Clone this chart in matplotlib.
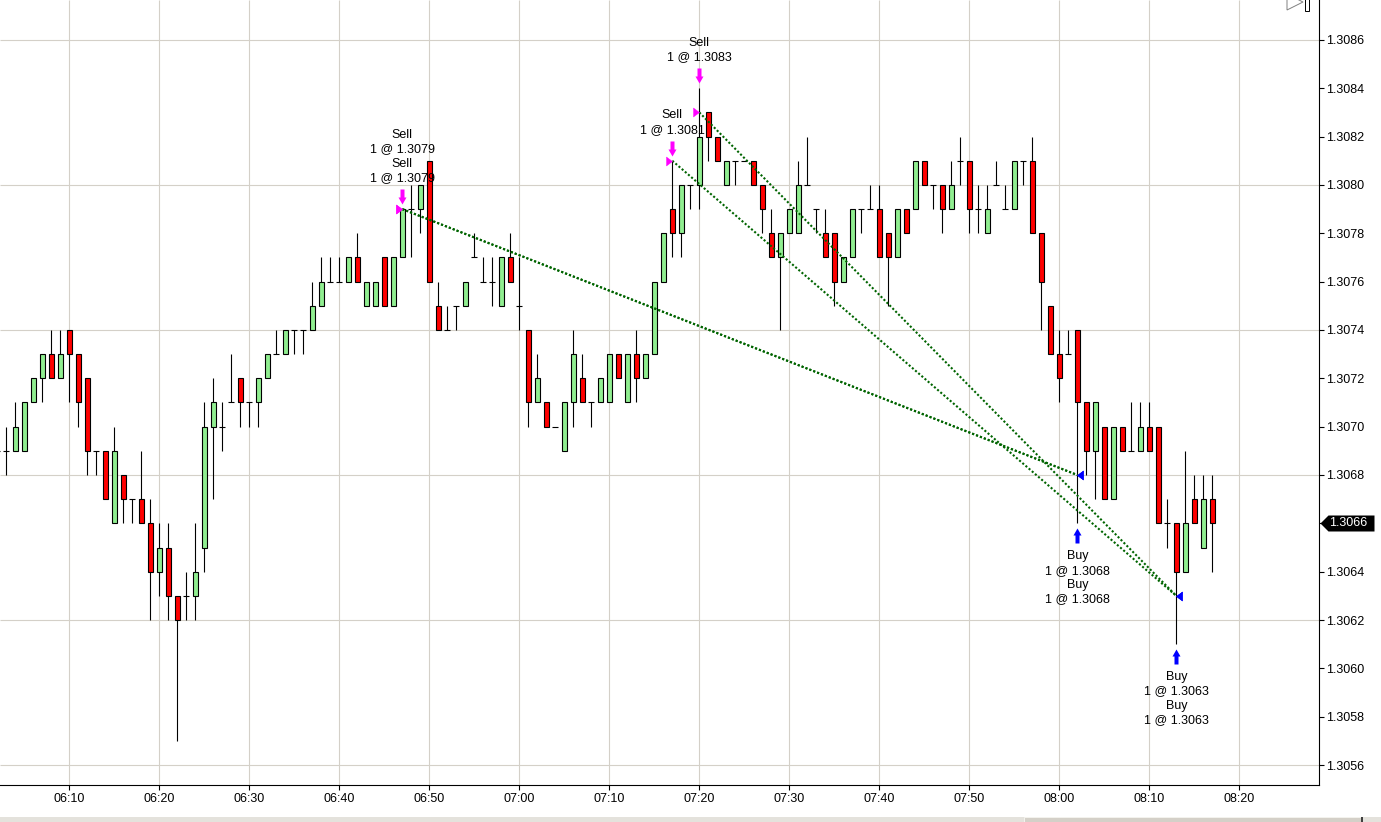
import matplotlib
matplotlib.use('Agg')
import matplotlib.pyplot as plt
from matplotlib.patches import Rectangle, Polygon
from matplotlib.transforms import offset_copy, blended_transform_factory
import numpy as np

plt.rcParams['font.family'] = ['Liberation Sans', 'DejaVu Sans']

# 1分足 (06:00 からの経過分)
minutes = list(range(2, 138))
opens = [1.3069, 1.3069, 1.3069, 1.3069, 1.3071, 1.3072, 1.3073, 1.3072, 1.3074, 1.3073,
         1.3072, 1.3069, 1.3069, 1.3066, 1.3068, 1.3067, 1.3067, 1.3066, 1.3064, 1.3065,
         1.3063, 1.3063, 1.3063, 1.3065, 1.3070, 1.3070, 1.3071, 1.3072, 1.3071, 1.3071,
         1.3072, 1.3073, 1.3073, 1.3074, 1.3074, 1.3074, 1.3075, 1.3076, 1.3076, 1.3076,
         1.3077, 1.3075, 1.3075, 1.3077, 1.3075, 1.3077, 1.3079, 1.3079, 1.3081, 1.3075,
         1.3074, 1.3075, 1.3075, 1.3077, 1.3076, 1.3076, 1.3075, 1.3077, 1.3075, 1.3074,
         1.3071, 1.3071, 1.3070, 1.3069, 1.3071, 1.3072, 1.3071, 1.3071, 1.3071, 1.3073,
         1.3071, 1.3073, 1.3072, 1.3073, 1.3076, 1.3079, 1.3078, 1.3080, 1.3080, 1.3083,
         1.3082, 1.3080, 1.3081, 1.3081, 1.3081, 1.3080, 1.3078, 1.3077, 1.3078, 1.3078,
         1.3080, 1.3079, 1.3078, 1.3078, 1.3076, 1.3077, 1.3079, 1.3079, 1.3079, 1.3078,
         1.3077, 1.3079, 1.3079, 1.3081, 1.3080, 1.3080, 1.3079, 1.3081, 1.3081, 1.3079,
         1.3078, 1.3080, 1.3079, 1.3079, 1.3081, 1.3081, 1.3078, 1.3075, 1.3073, 1.3073,
         1.3074, 1.3071, 1.3069, 1.3070, 1.3067, 1.3070, 1.3069, 1.3069, 1.3070, 1.3070,
         1.3066, 1.3066, 1.3064, 1.3067, 1.3065, 1.3067]
highs = [1.3069, 1.3070, 1.3071, 1.3071, 1.3072, 1.3073, 1.3074, 1.3074, 1.3074, 1.3073,
         1.3072, 1.3069, 1.3069, 1.3070, 1.3068, 1.3067, 1.3069, 1.3067, 1.3066, 1.3066,
         1.3063, 1.3064, 1.3066, 1.3071, 1.3072, 1.3071, 1.3073, 1.3072, 1.3071, 1.3072,
         1.3073, 1.3074, 1.3074, 1.3074, 1.3074, 1.3076, 1.3077, 1.3077, 1.3077, 1.3077,
         1.3078, 1.3076, 1.3076, 1.3077, 1.3077, 1.3079, 1.3080, 1.3080, 1.3081, 1.3076,
         1.3075, 1.3075, 1.3076, 1.3078, 1.3077, 1.3077, 1.3077, 1.3078, 1.3077, 1.3074,
         1.3073, 1.3071, 1.3070, 1.3071, 1.3074, 1.3073, 1.3071, 1.3072, 1.3073, 1.3073,
         1.3073, 1.3074, 1.3073, 1.3076, 1.3078, 1.3081, 1.3080, 1.3080, 1.3084, 1.3083,
         1.3082, 1.3081, 1.3081, 1.3081, 1.3081, 1.3080, 1.3079, 1.3078, 1.3079, 1.3081,
         1.3082, 1.3079, 1.3079, 1.3078, 1.3077, 1.3079, 1.3079, 1.3080, 1.3080, 1.3078,
         1.3079, 1.3079, 1.3081, 1.3081, 1.3080, 1.3080, 1.3081, 1.3082, 1.3081, 1.3080,
         1.3080, 1.3081, 1.3080, 1.3081, 1.3081, 1.3082, 1.3078, 1.3075, 1.3074, 1.3074,
         1.3074, 1.3071, 1.3071, 1.3070, 1.3070, 1.3070, 1.3071, 1.3071, 1.3071, 1.3070,
         1.3067, 1.3066, 1.3069, 1.3068, 1.3068, 1.3068]
lows = [1.3068, 1.3068, 1.3069, 1.3069, 1.3071, 1.3071, 1.3072, 1.3072, 1.3071, 1.3070,
        1.3068, 1.3068, 1.3067, 1.3066, 1.3066, 1.3066, 1.3066, 1.3062, 1.3063, 1.3062,
        1.3057, 1.3062, 1.3062, 1.3064, 1.3067, 1.3069, 1.3071, 1.3070, 1.3070, 1.3070,
        1.3072, 1.3073, 1.3073, 1.3073, 1.3073, 1.3074, 1.3075, 1.3076, 1.3076, 1.3076,
        1.3076, 1.3075, 1.3075, 1.3075, 1.3075, 1.3077, 1.3077, 1.3078, 1.3076, 1.3074,
        1.3074, 1.3074, 1.3075, 1.3077, 1.3076, 1.3075, 1.3075, 1.3076, 1.3074, 1.3070,
        1.3071, 1.3070, 1.3070, 1.3069, 1.3070, 1.3071, 1.3070, 1.3071, 1.3071, 1.3072,
        1.3071, 1.3071, 1.3072, 1.3073, 1.3076, 1.3077, 1.3077, 1.3079, 1.3079, 1.3081,
        1.3081, 1.3080, 1.3080, 1.3081, 1.3080, 1.3078, 1.3077, 1.3074, 1.3078, 1.3078,
        1.3080, 1.3078, 1.3077, 1.3075, 1.3076, 1.3077, 1.3078, 1.3079, 1.3077, 1.3075,
        1.3077, 1.3078, 1.3079, 1.3080, 1.3079, 1.3078, 1.3079, 1.3080, 1.3078, 1.3078,
        1.3078, 1.3080, 1.3079, 1.3079, 1.3080, 1.3078, 1.3074, 1.3073, 1.3071, 1.3073,
        1.3066, 1.3068, 1.3067, 1.3067, 1.3067, 1.3069, 1.3069, 1.3069, 1.3069, 1.3066,
        1.3065, 1.3061, 1.3064, 1.3066, 1.3065, 1.3064]
closes = [1.3069, 1.3069, 1.3070, 1.3071, 1.3072, 1.3073, 1.3072, 1.3073, 1.3073, 1.3071,
          1.3069, 1.3069, 1.3067, 1.3069, 1.3067, 1.3067, 1.3066, 1.3064, 1.3065, 1.3063,
          1.3062, 1.3063, 1.3064, 1.3070, 1.3071, 1.3070, 1.3071, 1.3071, 1.3071, 1.3072,
          1.3073, 1.3073, 1.3074, 1.3074, 1.3074, 1.3075, 1.3076, 1.3076, 1.3076, 1.3077,
          1.3076, 1.3076, 1.3076, 1.3075, 1.3077, 1.3079, 1.3079, 1.3080, 1.3076, 1.3074,
          1.3074, 1.3075, 1.3076, 1.3077, 1.3076, 1.3076, 1.3077, 1.3076, 1.3075, 1.3071,
          1.3072, 1.3070, 1.3070, 1.3071, 1.3073, 1.3071, 1.3071, 1.3072, 1.3073, 1.3072,
          1.3073, 1.3072, 1.3073, 1.3076, 1.3078, 1.3078, 1.3080, 1.3080, 1.3082, 1.3082,
          1.3081, 1.3081, 1.3081, 1.3081, 1.3080, 1.3079, 1.3077, 1.3078, 1.3079, 1.3080,
          1.3080, 1.3079, 1.3077, 1.3076, 1.3077, 1.3079, 1.3079, 1.3079, 1.3077, 1.3077,
          1.3079, 1.3078, 1.3081, 1.3080, 1.3080, 1.3079, 1.3080, 1.3081, 1.3079, 1.3079,
          1.3079, 1.3080, 1.3079, 1.3081, 1.3081, 1.3078, 1.3076, 1.3073, 1.3072, 1.3073,
          1.3071, 1.3069, 1.3071, 1.3067, 1.3070, 1.3069, 1.3069, 1.3070, 1.3069, 1.3066,
          1.3066, 1.3064, 1.3066, 1.3066, 1.3067, 1.3066]

# 約定 (売り → 買い)
sell_bars = [47, 47, 77, 80]
sell_prices = [1.3079, 1.3079, 1.3081, 1.3083]
buy_bars = [122, 122, 133, 133]
buy_prices = [1.3068, 1.3068, 1.3063, 1.3063]

tick_minutes = [10, 20, 30, 40, 50, 60, 70, 80, 90, 100, 110, 120, 130, 140]
tick_labels = ['06:10', '06:20', '06:30', '06:40', '06:50', '07:00', '07:10',
               '07:20', '07:30', '07:40', '07:50', '08:00', '08:10', '08:20']
price_ticks = [1.3056, 1.3058, 1.3060, 1.3062, 1.3064, 1.3066, 1.3068, 1.3070,
               1.3072, 1.3074, 1.3076, 1.3078, 1.3080, 1.3082, 1.3084, 1.3086]
grid_prices = [1.3056, 1.3062, 1.3068, 1.3074, 1.3080, 1.3086]

W, H = 1381, 822
fig = plt.figure(figsize=(W / 100, H / 100), dpi=100)
ax = fig.add_axes([0, 37 / H, 1318.5 / W, 785 / H])
xlim = (2.3, 148.8)
ylim = (1.3055175, 1.308765)
ax.set_xlim(*xlim)
ax.set_ylim(*ylim)

# グリッド
grid_c = '#d4d0c8'
ax.vlines(tick_minutes, *ylim, color=grid_c, lw=0.8, zorder=0)
ax.hlines(grid_prices, *xlim, color=grid_c, lw=0.8, zorder=0)

# ローソク足
x = np.array(minutes)
o = np.array(opens)
h = np.array(highs)
l = np.array(lows)
c = np.array(closes)
up = c > o
dn = c < o
flat = c == o
ax.vlines(x, l, h, color='black', lw=0.8, zorder=2)
ax.bar(x[up], (c - o)[up], bottom=o[up], width=0.6, color='#90ee90',
       edgecolor='black', lw=0.8, zorder=3)
ax.bar(x[dn], (o - c)[dn], bottom=c[dn], width=0.6, color='#ff0000',
       edgecolor='black', lw=0.8, zorder=3)
ax.hlines(o[flat], x[flat] - 0.33, x[flat] + 0.33, color='black', lw=0.8, zorder=3)

# 約定ライン
for sb, sp, bb, bp in zip(sell_bars, sell_prices, buy_bars, buy_prices):
    ax.plot([sb, bb], [sp, bp], color='#006400', lw=1.5, ls=(0, (1, 1)), zorder=4)

# 約定マーカー
tri_right = [(0, 0), (-6, 4.5), (-6, -4.5), (0, 0)]
tri_left = [(0, 0), (6, 4.5), (6, -4.5), (0, 0)]
ax.plot(sell_bars, sell_prices, ls='none', marker=tri_right, ms=8.64, mew=0.3,
        color='#ff00ff', zorder=5)
ax.plot(buy_bars, buy_prices, ls='none', marker=tri_left, ms=8.64, mew=0.3,
        color='#0000ff', zorder=5)

arrow_dn = [(0, 0), (4, 7), (2, 7), (2, 15), (-2, 15), (-2, 7), (-4, 7), (0, 0)]
arrow_up = [(vx, -vy) for vx, vy in arrow_dn]
sell_tr = offset_copy(ax.transData, fig=fig, x=0, y=5, units='dots')
buy_tr = offset_copy(ax.transData, fig=fig, x=0, y=-5, units='dots')

for b in sorted(set(sell_bars)):
    hi = highs[minutes.index(b)]
    ax.plot([b], [hi], ls='none', marker=arrow_dn, ms=21.6, mew=0,
            color='#ff00ff', transform=sell_tr, zorder=5)
    txt = '\n'.join('Sell\n1 @ %.4f' % p for sb, p in zip(sell_bars, sell_prices) if sb == b)
    ax.annotate(txt, xy=(b, hi), xytext=(0, 25), textcoords='offset pixels',
                ha='center', va='bottom', fontsize=9, linespacing=1.26, zorder=6)

for b in sorted(set(buy_bars)):
    lo = lows[minutes.index(b)]
    ax.plot([b], [lo], ls='none', marker=arrow_up, ms=21.6, mew=0,
            color='#0000ff', transform=buy_tr, zorder=5)
    txt = '\n'.join('Buy\n1 @ %.4f' % p for bb, p in zip(buy_bars, buy_prices) if bb == b)
    ax.annotate(txt, xy=(b, lo), xytext=(0, -27), textcoords='offset pixels',
                ha='center', va='top', fontsize=9, linespacing=1.26, zorder=6)

# 軸 (現在値の目盛ラベルはラベル枠の下に隠れる)
last = closes[-1]
ax.set_xticks(tick_minutes)
ax.set_xticklabels(tick_labels)
ax.yaxis.tick_right()
ax.set_yticks(price_ticks)
ax.set_yticklabels(['' if p == last else '%.4f' % p for p in price_ticks])
ax.tick_params(axis='both', direction='out', length=3.6, width=0.8,
               labelsize=9, colors='black')
ax.tick_params(axis='x', pad=2)
ax.tick_params(axis='y', pad=2)
ax.spines['left'].set_visible(False)
ax.spines['top'].set_visible(False)
ax.spines['right'].set_linewidth(0.8)
ax.spines['bottom'].set_linewidth(0.8)

# 現在値ラベル
blend = blended_transform_factory(ax.transAxes, ax.transData)
price_tag = [(0, 0), (8, 8), (54, 8), (54, -8), (8, -8), (0, 0)]
ax.plot([1.0], [last], ls='none', marker=price_tag, ms=77.76, mew=0,
        color='black', transform=offset_copy(blend, fig=fig, x=1.5, units='dots'),
        clip_on=False, zorder=7)
ax.text(1.0, last, '%.4f' % last, color='white', fontsize=9,
        ha='left', va='center', transform=offset_copy(blend, fig=fig, x=11, units='dots'),
        clip_on=False, zorder=8)

# 右上のアイコンと下のスクロールバー
def px(xp, yp):
    return (xp / W, 1 - yp / H)

fig.patches.append(Polygon([px(1287, -6), px(1303, 2), px(1287, 10)], closed=True,
                           fill=False, ec='#808080', lw=0.7, transform=fig.transFigure))
fig.patches.append(Rectangle(px(1305, 11), 4 / W, 12 / H, fc='white', ec='black',
                             lw=0.7, transform=fig.transFigure))
fig.patches.append(Rectangle((0, 0), 1, 5 / H, fc='#e4e2dc', ec='none',
                             transform=fig.transFigure))
fig.patches.append(Rectangle(px(1024, 822), 337 / W, 5 / H, fc='#d4d0c8', ec='#f4f3ee',
                             lw=0.7, transform=fig.transFigure))
fig.patches.append(Rectangle(px(1361, 822), 2 / W, 5 / H, fc='#404040', ec='none',
                             transform=fig.transFigure))

plt.savefig('out.png', dpi=100)
